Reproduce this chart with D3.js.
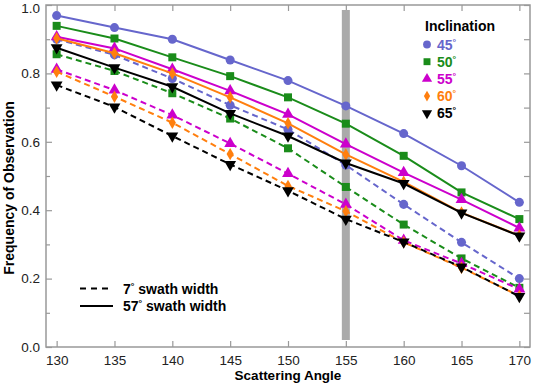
<!DOCTYPE html>
<html>
<head>
<meta charset="utf-8">
<script src="https://cdn.jsdelivr.net/npm/d3@7"></script>
<style>
  body { margin: 0; background: #fff; }
  svg { font-family: "Liberation Sans", Arial, sans-serif; }
  .tick text { font-size: 13.5px; fill: #222; }
  .axis path, .axis line { stroke: #999; }
</style>
</head>
<body>
<svg id="chart" width="533" height="385"></svg>
<script>
// scattering angles (x)
const angles = [130, 135, 140, 145, 150, 155, 160, 165, 170];
const inclinations = ['45', '50', '55', '60', '65'];
const colors = ['#6666cc', '#1a8c1a', '#cc00cc', '#ff7f0e', '#000000'];
const symbols = ['circle', 'square', 'triangle', 'diamond', 'down'];

// 57 deg swath width (solid)
const wide45 = [0.969, 0.934, 0.900, 0.839, 0.779, 0.705, 0.624, 0.530, 0.423];
const wide50 = [0.939, 0.902, 0.847, 0.792, 0.730, 0.653, 0.559, 0.452, 0.374];
const wide55 = [0.907, 0.873, 0.812, 0.749, 0.680, 0.593, 0.510, 0.431, 0.348];
const wide60 = [0.903, 0.859, 0.800, 0.730, 0.654, 0.563, 0.483, 0.393, 0.326];
const wide65 = [0.875, 0.817, 0.761, 0.683, 0.617, 0.538, 0.478, 0.392, 0.325];

// 7 deg swath width (dashed)
const narrow45 = [0.900, 0.854, 0.785, 0.707, 0.636, 0.532, 0.417, 0.306, 0.200];
const narrow50 = [0.856, 0.807, 0.742, 0.668, 0.581, 0.468, 0.358, 0.259, 0.173];
const narrow55 = [0.812, 0.751, 0.678, 0.595, 0.507, 0.417, 0.312, 0.244, 0.169];
const narrow60 = [0.805, 0.732, 0.656, 0.564, 0.471, 0.397, 0.306, 0.232, 0.149];
const narrow65 = [0.766, 0.702, 0.617, 0.534, 0.457, 0.374, 0.307, 0.234, 0.148];

const wide = [wide45, wide50, wide55, wide60, wide65];
const narrow = [narrow45, narrow50, narrow55, narrow60, narrow65];

const xTicks = [130, 135, 140, 145, 150, 155, 160, 165, 170];
const yTicks = [0, 0.2, 0.4, 0.6, 0.8, 1.0];
const yMinor = [0.1, 0.3, 0.5, 0.7, 0.9];
const markAngle = 155;

const svg = d3.select('#chart');
const plotLeft = 46, plotRight = 530, plotTop = 5, plotBottom = 347;

const x = d3.scaleLinear().domain([129.08, 170.92]).range([plotLeft, plotRight]);
const y = d3.scaleLinear().domain([0, 1]).range([plotBottom, plotTop]);

// frame
svg.append('rect')
  .attr('x', plotLeft).attr('y', plotTop)
  .attr('width', plotRight - plotLeft).attr('height', plotBottom - plotTop)
  .attr('fill', 'none').attr('stroke', '#999').attr('stroke-width', 1.5);

// axes with inward ticks
svg.append('g').attr('class', 'axis')
  .attr('transform', `translate(0,${plotBottom})`)
  .call(d3.axisBottom(x).tickValues(xTicks).tickSize(-6).tickPadding(8).tickFormat(d3.format('d')));
svg.append('g').attr('class', 'axis')
  .attr('transform', `translate(0,${plotTop})`)
  .call(d3.axisTop(x).tickValues(xTicks).tickSize(-6).tickFormat(''));
const gy = svg.append('g').attr('class', 'axis')
  .attr('transform', `translate(${plotLeft},0)`)
  .call(d3.axisLeft(y).tickValues(yTicks).tickSize(-6).tickPadding(6).tickFormat(d3.format('.1f')));
// keep the top label inside the picture
gy.selectAll('.tick text').filter(d => d === 1).attr('dy', '0.55em');
svg.append('g').attr('class', 'axis')
  .attr('transform', `translate(${plotLeft},0)`)
  .call(d3.axisLeft(y).tickValues(yMinor).tickSize(-4).tickFormat(''));
svg.append('g').attr('class', 'axis')
  .attr('transform', `translate(${plotRight},0)`)
  .call(d3.axisRight(y).tickValues(yTicks.concat(yMinor)).tickSize(-6).tickFormat(''));
svg.selectAll('.axis path.domain').remove();
svg.selectAll('.axis line').attr('stroke-width', 1.2);

// grey band at 155 deg
svg.append('rect')
  .attr('x', x(markAngle) - 4).attr('y', 10)
  .attr('width', 8).attr('height', 330)
  .attr('fill', '#aaaaaa');

// axis titles
svg.append('text')
  .attr('x', 288).attr('y', 380)
  .attr('text-anchor', 'middle')
  .attr('font-size', 13.5).attr('font-weight', 'bold')
  .text('Scattering Angle');
svg.append('text')
  .attr('transform', 'translate(14,188) rotate(-90)')
  .attr('text-anchor', 'middle')
  .attr('font-size', 14).attr('font-weight', 'bold')
  .text('Frequency of Observation');

// marker shapes
const symbolPath = (type, s) => {
  if (type === 'circle') return d3.symbol(d3.symbolCircle, s * 1.0)();
  if (type === 'square') return d3.symbol(d3.symbolSquare, s * 1.0)();
  if (type === 'triangle') return d3.symbol(d3.symbolTriangle, s * 0.95)();
  if (type === 'diamond') return d3.symbol(d3.symbolDiamond, s * 0.7)();
  return d3.symbol(d3.symbolTriangle, s * 0.95)();
};

const line = d3.line()
  .x((d, i) => x(angles[i]))
  .y(d => y(d));

const drawSeries = (values, k, dashed) => {
  const g = svg.append('g');
  g.append('path')
    .attr('d', line(values))
    .attr('fill', 'none')
    .attr('stroke', colors[k])
    .attr('stroke-width', 2)
    .attr('stroke-dasharray', dashed ? '6,4' : null);
  g.selectAll('path.mark').data(values)
    .enter().append('path')
      .attr('class', 'mark')
      .attr('d', symbolPath(symbols[k], 64))
      .attr('transform', (d, i) => `translate(${x(angles[i])},${y(d)})` + (symbols[k] === 'down' ? ' rotate(180)' : ''))
      .attr('fill', colors[k]);
};

narrow.forEach((vals, k) => drawSeries(vals, k, true));
wide.forEach((vals, k) => drawSeries(vals, k, false));

// inclination legend
const legend = svg.append('g');
legend.append('text')
  .attr('x', 425).attr('y', 31)
  .attr('font-size', 14).attr('font-weight', 'bold')
  .text('Inclination');
inclinations.forEach((inc, k) => {
  const ly = 44.5 + k * 17.2;
  legend.append('path')
    .attr('d', symbolPath(symbols[k], 48))
    .attr('transform', `translate(427,${ly})` + (symbols[k] === 'down' ? ' rotate(180)' : ''))
    .attr('fill', colors[k]);
  const t = legend.append('text')
    .attr('x', 437).attr('y', ly + 5)
    .attr('font-size', 14).attr('font-weight', 'bold')
    .attr('fill', colors[k])
    .text(inc);
  t.append('tspan').attr('font-size', 9).attr('dy', -5).text('°');
});

// swath width legend
const swath = [
  { label: '7', dashed: true },
  { label: '57', dashed: false }
];
swath.forEach((s, i) => {
  const ly = 288.5 + i * 17.5;
  svg.append('line')
    .attr('x1', 80).attr('x2', 113)
    .attr('y1', ly).attr('y2', ly)
    .attr('stroke', '#000').attr('stroke-width', 2)
    .attr('stroke-dasharray', s.dashed ? '6,5' : null);
  const t = svg.append('text')
    .attr('x', 123).attr('y', ly + 5)
    .attr('font-size', 14).attr('font-weight', 'bold')
    .text(s.label);
  t.append('tspan').attr('font-size', 9).attr('dy', -5).text('°');
  t.append('tspan').attr('dy', 5).text(' swath width');
});
</script>
</body>
</html>
